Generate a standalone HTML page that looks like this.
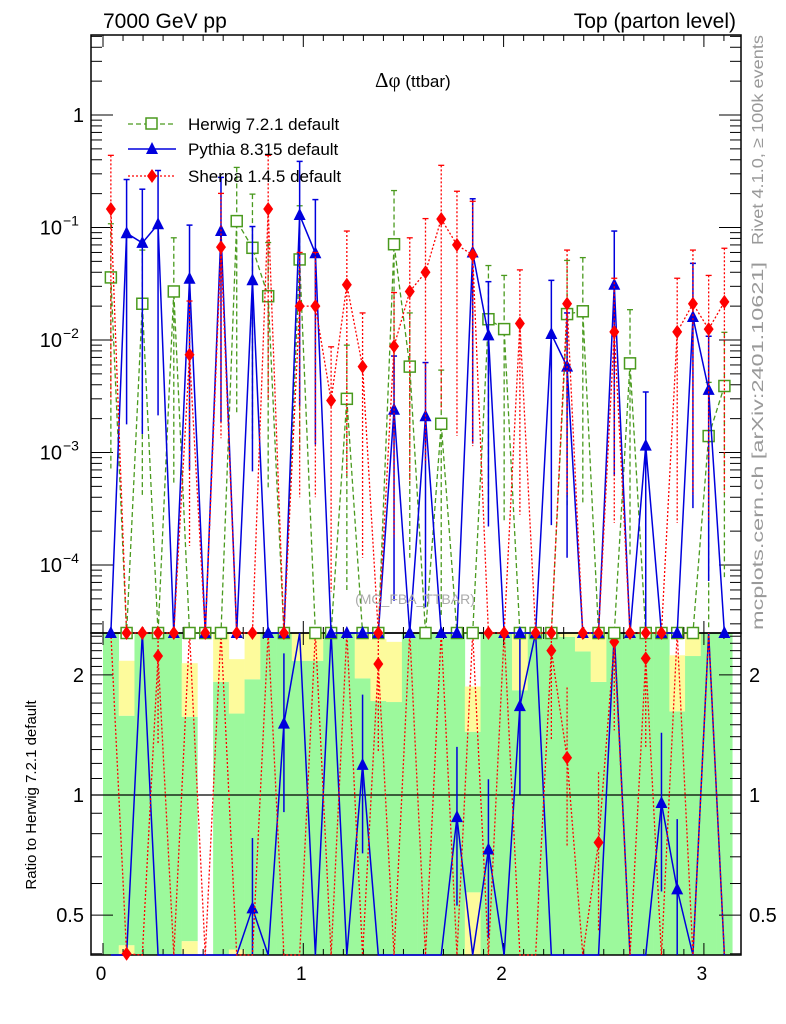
<!DOCTYPE html>
<html><head><meta charset="utf-8"><style>
html,body{margin:0;padding:0;background:#fff;}
svg{display:block;font-family:"Liberation Sans",sans-serif;}
</style></head><body>
<svg id="chart" width="786" height="1024" viewBox="0 0 786 1024" xmlns="http://www.w3.org/2000/svg">
<g id="band"></g>
<g id="grid"></g>
<g id="series"></g>
<text x="103" y="28" font-size="21">7000 GeV pp</text>
<text x="736" y="28" font-size="21" text-anchor="end">Top (parton level)</text>
<text x="375" y="87" font-size="17"><tspan font-family="Liberation Serif,serif" font-size="21">Δφ</tspan> (ttbar)</text>
<text x="415" y="604" font-size="14" fill="#aaaaaa" text-anchor="middle">(MC_FBA_TTBAR)</text>
<text transform="translate(763,245) rotate(-90)" font-size="16" fill="#999" textLength="210" lengthAdjust="spacingAndGlyphs">Rivet 4.1.0, ≥ 100k events</text>
<text transform="translate(763,630) rotate(-90)" font-size="16" fill="#999" textLength="368" lengthAdjust="spacingAndGlyphs">mcplots.cern.ch [arXiv:2401.10621]</text>
<text transform="translate(36,795) rotate(-90)" font-size="15" text-anchor="middle">Ratio to Herwig 7.2.1 default</text>
<g>
 <g>
  <line x1="128" y1="124" x2="176" y2="124" stroke="#4a9a1e" stroke-width="1.3" stroke-dasharray="5,3"/>
  <rect x="146" y="118" width="11" height="11" fill="#fff" stroke="#4a9a1e" stroke-width="1.5"/>
  <text x="188" y="130" font-size="17">Herwig 7.2.1 default</text></g>
 <g>
  <line x1="128" y1="149" x2="176" y2="149" stroke="#0000dd" stroke-width="1.5"/>
  <polygon points="152,142 158,154 146,154" fill="#0000dd"/>
  <text x="188" y="155" font-size="17">Pythia 8.315 default</text></g>
 <g>
  <line x1="128" y1="176" x2="176" y2="176" stroke="#ff0000" stroke-width="1.3" stroke-dasharray="2,2"/>
  <polygon points="152,169 157,176 152,183 147,176" fill="#ff0000"/>
  <text x="188" y="182" font-size="17">Sherpa 1.4.5 default</text></g>
</g>
</svg>
<script>
// ---- data (40 bins over 0..pi) ----
const herwigValues=[0.036,0,0.021,0,0.027,0,0,0,0.114,0.066,0.0245,0,0.052,0,0,0.0030,0,0,0.071,0.0058,0,0.0018,0,0,0.0153,0.0125,0,0,0,0.017,0.018,0,0,0.0062,0,0,0,0,0.0014,0.0039];
const pythiaValues=[0,0.089,0.073,0.107,0,0.035,0,0.093,0,0.034,0,0,0.129,0.059,0,0,0,0,0.0024,0,0.0021,0,0,0.060,0.011,0,0,0,0.0113,0.0058,0,0,0.031,0,0.00115,0,0,0.016,0.0036,0];
const sherpaValues=[0.146,0,0,0,0,0.0074,0,0.067,0,0,0.146,0,0.020,0.020,0.0029,0.031,0.0058,0,0.0088,0.027,0.040,0.119,0.070,0.057,0,0,0.014,0,0,0.021,0,0,0.0118,0,0,0,0.0118,0.021,0.0125,0.0218];
const pythiaRatio=[0.1,0.1,9,0.1,0.1,0.1,0.1,0.1,0.1,0.52,0.1,1.51,9,0.1,9,0.1,1.19,0.1,0.1,0.1,0.1,0.1,0.88,0.1,0.73,0.1,1.67,9,0.1,0.1,0.1,0.1,9,0.1,0.1,0.955,0.58,0.1,9,0.1];
const sherpaRatio=[9,0.40,0.1,2.23,0.1,9,0.1,9,0.1,0.1,9,0.1,0.1,9,0.1,9,0.1,2.13,0.1,9,0.1,9,0.1,9,0.1,9,0.1,0.1,2.3,1.24,0.1,0.76,2.42,0.1,2.2,0.1,9,0.1,9,0.1];
const bandGreenHi=[3,1.58,3,3,3,1.57,0.3,1.92,1.6,1.95,3,3,2.17,2.17,3,3,1.96,1.72,1.71,3,3,3,3,1.44,3,3,1.83,3,3,2.49,2.29,1.92,3,3,3,3,1.62,2.23,3,3];
const bandYellowHi=[3,2.17,3,3,3,2.14,0.3,3,2.19,3,3,3,3,3,3,3,3,2.46,2.42,3,3,3,3,1.87,3,3,3,3,3,3,3,3,3,3,3,3,2.24,3,3,3];
const bandGreenLo=[0.3,0.42,0.3,0.3,0.3,0.43,0.3,0.3,0.41,0.3,0.3,0.3,0.3,0.3,0.3,0.3,0.3,0.3,0.3,0.3,0.3,0.3,0.3,0.57,0.3,0.3,0.3,0.3,0.3,0.3,0.3,0.3,0.3,0.3,0.3,0.3,0.3,0.3,0.3,0.3];
const xTicks=[0,1,2,3];
const yTickExps=[0,-1,-2,-3,-4];
const ratioTicks=[0.5,1,2];
const ratioTickLabels=["0.5","1","2"];

const NS="http://www.w3.org/2000/svg";
const NB=40, BW=Math.PI/NB;
const L=91,R=741,T=35,MB=633,RB=955;
function X(v){return 103+v*200.3;}
function Y(v){if(v<=0)return MB;return Math.min(MB,Math.max(T,115-112.5*Math.log10(v)));}
function YR(r){return Math.min(RB,Math.max(MB,795-399*Math.log10(r)));}
function mk(tag,attrs,parent){const e=document.createElementNS(NS,tag);for(const k in attrs)e.setAttribute(k,attrs[k]);parent.appendChild(e);return e;}
const band=document.getElementById('band'),grid=document.getElementById('grid'),ser=document.getElementById('series');

for(let i=0;i<NB;i++){
 const x0=X(i*BW),x1=X((i+1)*BW);
 const gTop=YR(bandGreenHi[i]),gBot=YR(bandGreenLo[i]),yTop=YR(bandYellowHi[i]);
 if(gBot>gTop){const r=mk('rect',{x:x0,y:gTop,width:x1-x0+0.3,height:gBot-gTop,fill:'#9cf99c'},band);
  
  }
 if(gTop>yTop){const r=mk('rect',{x:x0,y:yTop,width:x1-x0+0.3,height:gTop-yTop,fill:'#fdfb9c'},band);
  
  }
 if(RB>gBot){const r=mk('rect',{x:x0,y:gBot,width:x1-x0+0.3,height:RB-gBot,fill:'#fdfb9c'},band);
  
  }
}

const f1=mk('rect',{x:L,y:T,width:R-L,height:MB-T,fill:'none',stroke:'#000','stroke-width':1.5},grid);


const f2=mk('rect',{x:L,y:MB,width:R-L,height:RB-MB,fill:'none',stroke:'#000','stroke-width':1.5},grid);


const one=mk('line',{x1:L,x2:R,y1:YR(1),y2:YR(1),stroke:'#000','stroke-width':1.3},grid);



for(let k=0;k<=31;k++){
 const v=k/10,x=X(v),maj=(k%10===0),len=maj?12:6;
 [[T,1],[MB,-1],[MB,1],[RB,-1]].forEach(([y0,d])=>{mk('line',{x1:x,x2:x,y1:y0,y2:y0+d*len,stroke:'#000','stroke-width':1},grid);});
}
xTicks.forEach(v=>{const t=mk('text',{x:X(v)-2,y:980,'font-size':19,'text-anchor':'middle'},grid);t.textContent=String(v);
 
 });

for(let e=-5;e<=0;e++){for(let m=1;m<10;m++){const v=m*Math.pow(10,e),y=Y(v);if(y<=T||y>=MB)continue;
 const len=m===1?22:11;
 mk('line',{x1:L,x2:L+len,y1:y,y2:y,stroke:'#000','stroke-width':1},grid);
 mk('line',{x1:R,x2:R-len,y1:y,y2:y,stroke:'#000','stroke-width':1},grid);}}
yTickExps.forEach(e=>{const y=Y(Math.pow(10,e));
 const t=mk('text',{x:e===0?84:62,y:y+7,'font-size':20,'text-anchor':'end'},grid);
 
 
 if(e===0){t.textContent='1';}else{t.textContent='10';
  const t2=mk('text',{x:63,y:y-2,'font-size':14},grid);t2.textContent='\u2212'+(-e);
  
  }
});
for(let r=0.4;r<2.6;r+=0.1){const y=YR(r);if(y<=MB||y>=RB)continue;
 const maj=ratioTicks.some(t=>Math.abs(t-r)<1e-6);const len=maj?22:11;
 mk('line',{x1:L,x2:L+len,y1:y,y2:y,stroke:'#000','stroke-width':1},grid);
 mk('line',{x1:R,x2:R-len,y1:y,y2:y,stroke:'#000','stroke-width':1},grid);}
ratioTicks.forEach((r,i)=>{const y=YR(r);
 const a=mk('text',{x:84,y:y+7,'font-size':20,'text-anchor':'end'},grid);a.textContent=ratioTickLabels[i];
 
 
 const b=mk('text',{x:749,y:y+7,'font-size':20},grid);b.textContent=ratioTickLabels[i];
 
 });

const styles={
 herwig:{c:'#4a9a1e',dash:'5,3',w:1.3,m:'sq'},
 pythia:{c:'#0000dd',dash:'',w:1.5,m:'tri'},
 sherpa:{c:'#ff0000',dash:'2,2',w:1.3,m:'dia'}};
function marker(type,x,y,c,g){
 if(type==='sq')return mk('rect',{x:x-5.5,y:y-5.5,width:11,height:11,fill:'#fff',stroke:c,'stroke-width':1.5},g);
 if(type==='tri')return mk('polygon',{points:`${x},${y-7} ${x+6},${y+5} ${x-6},${y+5}`,fill:c},g);
 return mk('polygon',{points:`${x},${y-7} ${x+5},${y} ${x},${y+7} ${x-5},${y}`,fill:c},g);
}
function drawMain(name,vals){
 const s=styles[name];const g=mk('g',{},ser);
 
 
 let pts=[];
 vals.forEach((v,i)=>{const x=X((i+0.5)*BW),y=Y(v);pts.push(x+','+y);
  if(v>0){const eb=mk('line',{x1:x,x2:x,y1:Y(v*3),y2:Y(v*0.02),stroke:s.c,'stroke-width':s.w,'stroke-dasharray':s.dash},g);
   
   
   mk('line',{x1:x-3,x2:x+3,y1:Y(v*3),y2:Y(v*3),stroke:s.c,'stroke-width':s.w},g);}
 });
 const pl=mk('polyline',{points:pts.join(' '),fill:'none',stroke:s.c,'stroke-width':s.w,'stroke-dasharray':s.dash},g);
 
 
 vals.forEach((v,i)=>{const m=marker(s.m,X((i+0.5)*BW),Y(v),s.c,g);
  
  });
}
function drawRatio(name,vals){
 const s=styles[name];const g=mk('g',{},ser);
 
 
 let pts=[];
 vals.forEach((r,i)=>{const x=X((i+0.5)*BW);pts.push(x+','+YR(r));
  if(r>0.42&&r<2.5){const eb=mk('line',{x1:x,x2:x,y1:YR(r*1.5),y2:YR(r*0.6),stroke:s.c,'stroke-width':s.w,'stroke-dasharray':s.dash},g);
   
   }});
 const pl=mk('polyline',{points:pts.join(' '),fill:'none',stroke:s.c,'stroke-width':s.w,'stroke-dasharray':s.dash},g);
 
 
 vals.forEach((r,i)=>{if(r>0.38&&r<2.6){const m=marker(s.m,X((i+0.5)*BW),YR(r),s.c,g);
  
  }});
}
drawRatio('pythia',pythiaRatio);
drawRatio('sherpa',sherpaRatio);
drawMain('herwig',herwigValues);
drawMain('pythia',pythiaValues);
drawMain('sherpa',sherpaValues);
</script>
</body></html>
